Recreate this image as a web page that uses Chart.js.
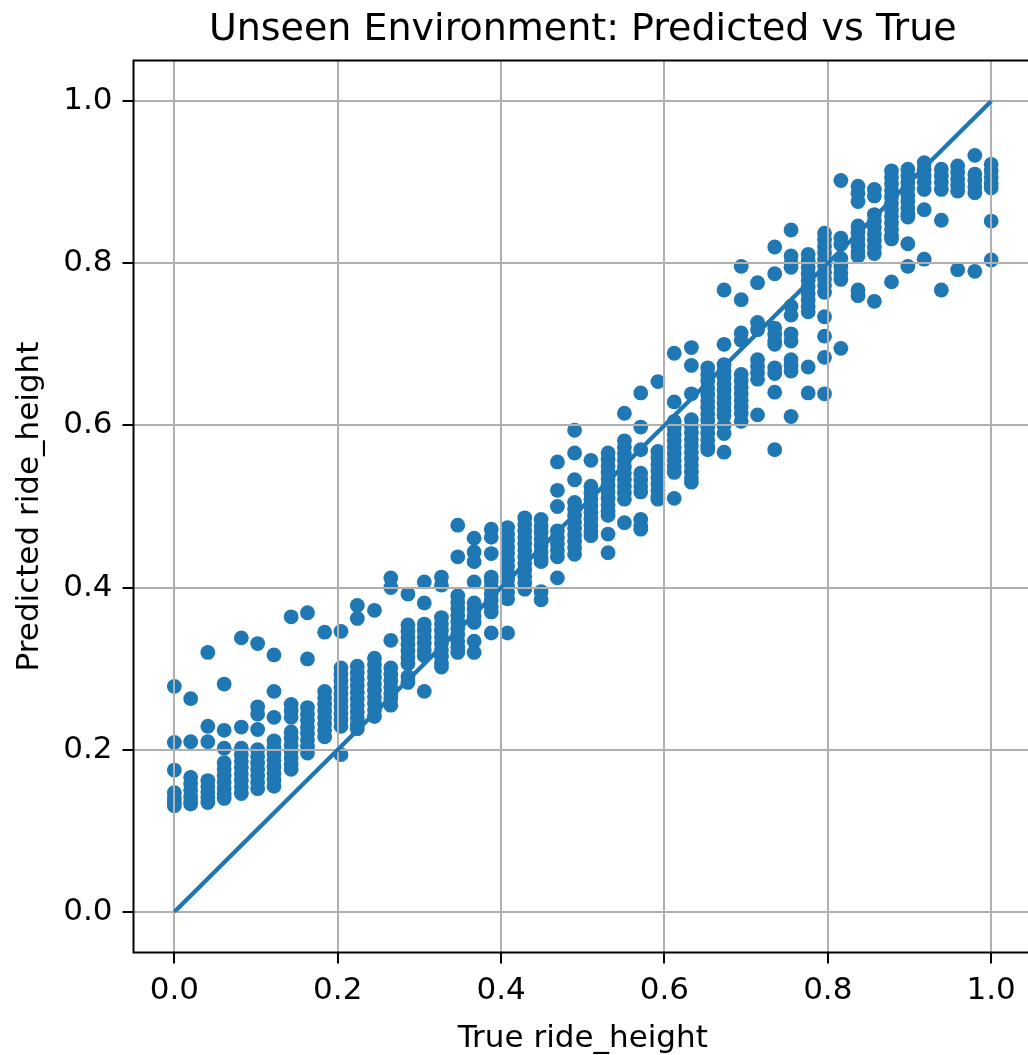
<!DOCTYPE html>
<html><head><meta charset="utf-8">
<script src="https://cdn.jsdelivr.net/npm/chart.js@4.4.0/dist/chart.umd.min.js"></script>
<style>
html,body{margin:0;padding:0;background:#fff;overflow:hidden;}
#wrap{width:1028px;height:1055px;overflow:hidden;position:relative;}
canvas{display:block;}
</style></head><body>
<div id="wrap"><canvas id="c" width="1040" height="1055"></canvas></div>
<script>
// True ride_height values (50 discrete levels)
const trueValues = [0.000, 0.020, 0.041, 0.061, 0.082, 0.102, 0.122, 0.143, 0.163, 0.184,
  0.204, 0.224, 0.245, 0.265, 0.286, 0.306, 0.327, 0.347, 0.367, 0.388,
  0.408, 0.429, 0.449, 0.469, 0.490, 0.510, 0.531, 0.551, 0.571, 0.592,
  0.612, 0.633, 0.653, 0.673, 0.694, 0.714, 0.735, 0.755, 0.776, 0.796,
  0.816, 0.837, 0.857, 0.878, 0.898, 0.918, 0.939, 0.959, 0.980, 1.000];

// Predicted ride_height values for each true level
const predicted = [
  [0.278, 0.209, 0.175, 0.147, 0.140, 0.135, 0.131],
  [0.263, 0.210, 0.166, 0.158, 0.150, 0.142, 0.136, 0.133],
  [0.320, 0.229, 0.210, 0.162, 0.155, 0.148, 0.141, 0.135],
  [0.281, 0.224, 0.202, 0.184, 0.176, 0.168, 0.160, 0.152, 0.145, 0.140],
  [0.338, 0.228, 0.202, 0.194, 0.186, 0.178, 0.170, 0.162, 0.154, 0.146],
  [0.331, 0.253, 0.244, 0.225, 0.200, 0.192, 0.184, 0.176, 0.168, 0.160, 0.152],
  [0.317, 0.272, 0.240, 0.211, 0.203, 0.195, 0.187, 0.179, 0.171, 0.163, 0.155],
  [0.364, 0.256, 0.248, 0.240, 0.222, 0.214, 0.206, 0.198, 0.190, 0.182, 0.176],
  [0.369, 0.312, 0.252, 0.244, 0.236, 0.228, 0.220, 0.212, 0.204, 0.196],
  [0.345, 0.272, 0.264, 0.256, 0.248, 0.240, 0.232, 0.224, 0.216],
  [0.346, 0.301, 0.293, 0.285, 0.277, 0.269, 0.261, 0.253, 0.245, 0.237, 0.229, 0.194],
  [0.378, 0.362, 0.303, 0.295, 0.287, 0.279, 0.271, 0.263, 0.255, 0.247, 0.239, 0.231, 0.226],
  [0.372, 0.313, 0.305, 0.297, 0.289, 0.281, 0.273, 0.265, 0.257, 0.249, 0.241],
  [0.412, 0.400, 0.335, 0.301, 0.293, 0.285, 0.277, 0.269, 0.263, 0.255],
  [0.392, 0.354, 0.346, 0.338, 0.330, 0.322, 0.314, 0.306, 0.290, 0.283],
  [0.407, 0.381, 0.355, 0.347, 0.339, 0.331, 0.323, 0.316, 0.272],
  [0.413, 0.403, 0.363, 0.355, 0.347, 0.339, 0.331, 0.323, 0.315, 0.307, 0.302],
  [0.477, 0.438, 0.390, 0.382, 0.374, 0.366, 0.358, 0.350, 0.342, 0.334, 0.326, 0.320],
  [0.461, 0.444, 0.432, 0.407, 0.381, 0.373, 0.365, 0.357, 0.334, 0.320],
  [0.472, 0.462, 0.442, 0.413, 0.408, 0.400, 0.392, 0.384, 0.376, 0.370, 0.344],
  [0.474, 0.466, 0.458, 0.450, 0.442, 0.434, 0.426, 0.418, 0.410, 0.402, 0.394, 0.386, 0.344],
  [0.486, 0.478, 0.470, 0.462, 0.454, 0.446, 0.438, 0.430, 0.422, 0.414, 0.406, 0.398],
  [0.484, 0.476, 0.468, 0.460, 0.452, 0.444, 0.436, 0.432, 0.395, 0.385],
  [0.555, 0.520, 0.500, 0.470, 0.462, 0.454, 0.446, 0.438, 0.412],
  [0.594, 0.566, 0.533, 0.505, 0.497, 0.489, 0.481, 0.473, 0.465, 0.457, 0.449, 0.441],
  [0.557, 0.525, 0.517, 0.509, 0.501, 0.493, 0.485, 0.477, 0.469, 0.464],
  [0.566, 0.558, 0.550, 0.542, 0.534, 0.526, 0.518, 0.510, 0.502, 0.494, 0.489, 0.466, 0.443],
  [0.615, 0.581, 0.573, 0.565, 0.557, 0.549, 0.541, 0.533, 0.525, 0.517, 0.509, 0.480],
  [0.640, 0.598, 0.570, 0.541, 0.533, 0.525, 0.518, 0.484, 0.476, 0.472],
  [0.654, 0.568, 0.560, 0.552, 0.544, 0.536, 0.528, 0.520, 0.512, 0.509],
  [0.689, 0.629, 0.605, 0.597, 0.589, 0.581, 0.573, 0.565, 0.557, 0.549, 0.542, 0.510],
  [0.696, 0.674, 0.639, 0.607, 0.599, 0.591, 0.583, 0.575, 0.567, 0.559, 0.551, 0.543, 0.535, 0.530],
  [0.671, 0.663, 0.655, 0.646, 0.638, 0.630, 0.622, 0.614, 0.606, 0.598, 0.590, 0.582, 0.574, 0.570],
  [0.767, 0.700, 0.675, 0.667, 0.659, 0.651, 0.643, 0.635, 0.627, 0.619, 0.612, 0.600, 0.590, 0.567],
  [0.796, 0.755, 0.714, 0.705, 0.663, 0.655, 0.647, 0.639, 0.631, 0.623, 0.615, 0.605],
  [0.776, 0.727, 0.718, 0.681, 0.673, 0.665, 0.657, 0.613],
  [0.820, 0.787, 0.720, 0.712, 0.704, 0.700, 0.671, 0.664, 0.641, 0.570],
  [0.841, 0.809, 0.800, 0.795, 0.747, 0.736, 0.713, 0.704, 0.681, 0.674, 0.667, 0.611],
  [0.811, 0.803, 0.795, 0.787, 0.779, 0.771, 0.763, 0.755, 0.747, 0.740, 0.672, 0.640],
  [0.837, 0.829, 0.821, 0.813, 0.805, 0.797, 0.789, 0.781, 0.773, 0.764, 0.734, 0.710, 0.684, 0.639],
  [0.902, 0.831, 0.823, 0.806, 0.796, 0.788, 0.780, 0.695],
  [0.895, 0.886, 0.876, 0.846, 0.838, 0.830, 0.822, 0.814, 0.809, 0.767, 0.760],
  [0.891, 0.883, 0.860, 0.852, 0.844, 0.836, 0.828, 0.820, 0.812, 0.753],
  [0.914, 0.906, 0.898, 0.890, 0.882, 0.874, 0.866, 0.858, 0.850, 0.842, 0.834, 0.830, 0.777],
  [0.916, 0.908, 0.900, 0.892, 0.884, 0.876, 0.868, 0.860, 0.857, 0.824, 0.796],
  [0.924, 0.916, 0.908, 0.900, 0.891, 0.866, 0.805],
  [0.916, 0.908, 0.900, 0.891, 0.853, 0.767],
  [0.920, 0.912, 0.904, 0.896, 0.889, 0.792],
  [0.933, 0.910, 0.902, 0.894, 0.887, 0.790],
  [0.922, 0.914, 0.906, 0.898, 0.893, 0.852, 0.804]
];

// Identity reference line
const diagX = [0, 1];
const diagY = [0, 1];

// Tick values
const xTicks = [0.0, 0.2, 0.4, 0.6, 0.8, 1.0];
const yTicks = [0.0, 0.2, 0.4, 0.6, 0.8, 1.0];

const titleText = 'Unseen Environment: Predicted vs True';
const xLabel = 'True ride_height';
const yLabel = 'Predicted ride_height';

const BLUE = '#1f77b4';
const FONT = "'DejaVu Sans', sans-serif";

const scatterData = [];
predicted.forEach((col, i) => col.forEach(v => scatterData.push({x: trueValues[i], y: v})));
const lineData = diagX.map((x, i) => ({x: x, y: diagY[i]}));

Chart.defaults.color = '#000';
Chart.defaults.font.family = FONT;

const framePlugin = {
  id: 'frame',
  afterLayout(chart) {
    // centre the title over the plotting area, as matplotlib does
    const t = chart.titleBlock, a = chart.chartArea;
    if (t && a) { t.left = a.left; t.right = a.right; t.width = a.right - a.left; }
  },
  afterDraw(chart) {
    const ctx = chart.ctx, a = chart.chartArea;
    // redraw the identity line above the grid (matplotlib z-order)
    const meta = chart.getDatasetMeta(1);
    ctx.save();
    ctx.beginPath();
    ctx.rect(a.left, a.top, a.right - a.left, a.bottom - a.top);
    ctx.clip();
    meta.dataset.draw(ctx, a);
    ctx.restore();
    // spines
    ctx.save();
    ctx.strokeStyle = '#000';
    ctx.lineWidth = 2;
    ctx.strokeRect(a.left, a.top, a.right - a.left, a.bottom - a.top);
    ctx.restore();
  }
};

function axisCommon(ticksArr, isX) {
  return {
    type: 'linear',
    min: -0.05,
    max: 1.05,
    afterBuildTicks: (s) => { s.ticks = ticksArr.map(v => ({value: v})); },
    ticks: {
      callback: (v) => Number(v).toFixed(1),
      font: {size: 31, family: FONT},
      color: '#000',
      padding: isX ? 9 : 10,
      autoSkip: false,
      maxRotation: 0
    },
    grid: {
      color: '#b0b0b0',
      lineWidth: 2,
      drawTicks: true,
      tickLength: 11,
      tickColor: '#000',
      tickWidth: 2,
      z: 1
    },
    border: {display: false}
  };
}

const xScale = axisCommon(xTicks, true);
xScale.position = 'bottom';
xScale.title = {display: true, text: xLabel, font: {size: 31, family: FONT, lineHeight: 1}, padding: {top: 0, bottom: 1}, color: '#000'};
xScale.afterFit = (s) => { s.height = 102.5; };

const yScale = axisCommon(yTicks, false);
yScale.position = 'left';
yScale.title = {display: true, text: yLabel, font: {size: 31, family: FONT, lineHeight: 1}, padding: {top: 14, bottom: 0}, color: '#000'};
yScale.afterFit = (s) => { s.width = 133.5; };

new Chart(document.getElementById('c'), {
  type: 'scatter',
  data: {
    datasets: [
      {
        label: 'Predicted',
        data: scatterData,
        backgroundColor: BLUE,
        borderColor: BLUE,
        borderWidth: 0,
        pointRadius: 7.4,
        pointHoverRadius: 7.4
      },
      {
        label: 'Identity',
        data: lineData,
        showLine: true,
        borderColor: BLUE,
        backgroundColor: BLUE,
        borderWidth: 4,
        pointRadius: 0,
        fill: false
      }
    ]
  },
  options: {
    responsive: false,
    animation: false,
    devicePixelRatio: 1,
    layout: {padding: {left: 0, right: 8, top: 0, bottom: 0}},
    plugins: {
      legend: {display: false},
      tooltip: {enabled: false},
      title: {
        display: true,
        text: titleText,
        font: {size: 38, family: FONT, weight: 'normal', lineHeight: 1},
        color: '#000',
        padding: {top: 11, bottom: 11.5}
      }
    },
    scales: {x: xScale, y: yScale}
  },
  plugins: [framePlugin]
});
</script>
</body></html>
